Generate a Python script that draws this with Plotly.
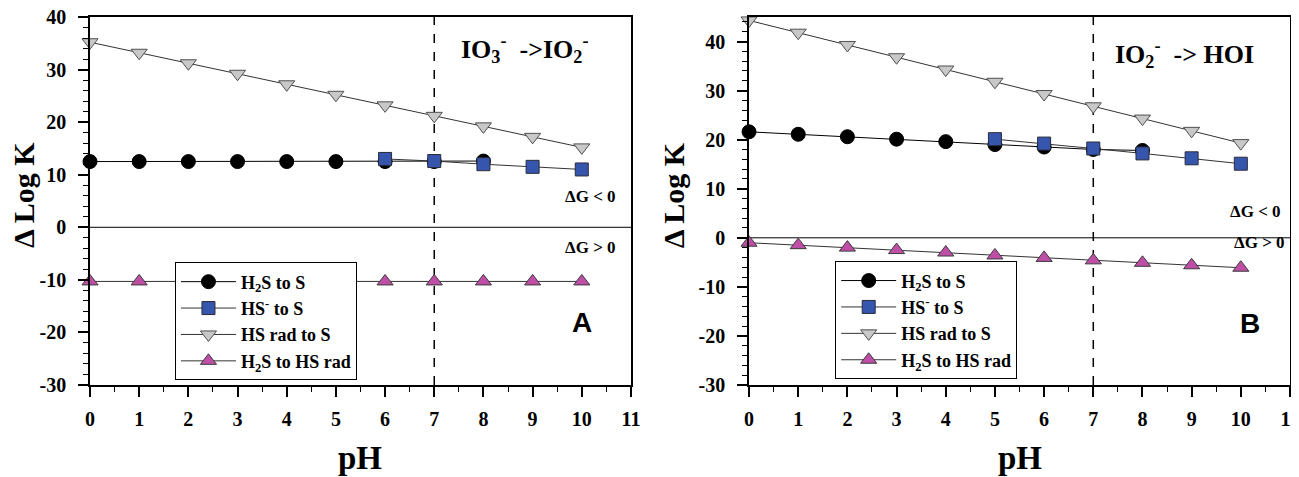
"""Delta log K vs pH for sulfide oxidation by iodine species (panels A and B)."""

import plotly.graph_objects as go

# ---------------------------------------------------------------- data ---- #
ph_all = [0, 1, 2, 3, 4, 5, 6, 7, 8, 9, 10]

# panel A : IO3- -> IO2-
a_h2s_ph = [0, 1, 2, 3, 4, 5, 6, 7, 8]
a_h2s_s = [12.5, 12.5, 12.5, 12.5, 12.5, 12.5, 12.5, 12.5, 12.6]
a_hs_ph = [6, 7, 8, 9, 10]
a_hs_s = [13.0, 12.6, 12.0, 11.5, 11.0]
a_hsrad_s = [35.2, 33.2, 31.2, 29.2, 27.2, 25.2, 23.2, 21.2, 19.2, 17.2, 15.2]
a_h2s_hsrad = [-10.3, -10.3, -10.3, -10.3, -10.3, -10.3, -10.3, -10.3, -10.3, -10.3, -10.3]

# panel B : IO2- -> HOI
b_h2s_ph = [0, 1, 2, 3, 4, 5, 6, 7, 8]
b_h2s_s = [21.6, 21.1, 20.6, 20.1, 19.6, 19.0, 18.5, 18.0, 17.8]
b_hs_ph = [5, 6, 7, 8, 9, 10]
b_hs_s = [20.1, 19.2, 18.2, 17.2, 16.2, 15.1]
b_hsrad_s = [44.3, 41.8, 39.3, 36.8, 34.3, 31.8, 29.3, 26.8, 24.3, 21.8, 19.3]
b_h2s_hsrad = [-1.0, -1.5, -2.0, -2.5, -3.0, -3.6, -4.1, -4.6, -5.1, -5.6, -6.1]

series_names = ["H<sub>2</sub>S to S", "HS<sup>-</sup> to S", "HS rad to S",
                "H<sub>2</sub>S to HS rad"]

x_ticks = list(range(0, 12))
y_ticks = [-30, -20, -10, 0, 10, 20, 30, 40]
y_ticktext = ["-30", "-20", "-10", "0", "10", "20", "30", "40"]

# -------------------------------------------------------------- styles ---- #
SERIF = "Liberation Serif"
styles = [
    dict(symbol="circle", size=14, color="black", line=dict(color="black", width=1)),
    dict(symbol="square", size=13, color="#3656AD", line=dict(color="#2a2a3a", width=1)),
    dict(symbol="triangle-down", size=14, color="#C8C8C8", line=dict(color="#505050", width=1)),
    dict(symbol="triangle-up", size=14, color="#BF4FA6", line=dict(color="#3a3a3a", width=1)),
]
line_colors = ["black", "#333333", "#333333", "#333333"]

fig = go.Figure()


def add_panel(xs_list, ys_list, xa, ya, legend):
    for i, (xs, ys) in enumerate(zip(xs_list, ys_list)):
        fig.add_trace(go.Scatter(
            x=xs, y=ys, mode="lines+markers", name=series_names[i],
            marker=styles[i], line=dict(color=line_colors[i], width=1),
            xaxis=xa, yaxis=ya, legend=legend, cliponaxis=False,
        ))


add_panel([a_h2s_ph, a_hs_ph, ph_all, ph_all],
          [a_h2s_s, a_hs_s, a_hsrad_s, a_h2s_hsrad], "x", "y", "legend")
add_panel([b_h2s_ph, b_hs_ph, ph_all, ph_all],
          [b_h2s_s, b_hs_s, b_hsrad_s, b_h2s_hsrad], "x2", "y2", "legend2")

# --------------------------------------------------------------- axes ----- #
tick_font = dict(family=SERIF, size=20, color="black", weight="bold")
xaxis_common = dict(
    range=[0, 11], tickvals=x_ticks, ticks="outside", ticklen=10, tickwidth=1.5,
    tickcolor="black", showline=True, linecolor="black", linewidth=1.5,
    mirror=True, showgrid=False, zeroline=False, tickfont=tick_font,
    ticklabelstandoff=5, ticklabeloverflow="allow", automargin=False,
    minor=dict(dtick=0.5, ticks="outside", ticklen=5, tickcolor="black", tickwidth=1),
)
yaxis_common = dict(
    tickvals=y_ticks, ticktext=y_ticktext, ticks="outside", ticklen=10, tickwidth=1.5,
    tickcolor="black", showline=True, linecolor="black", linewidth=1.5,
    mirror=True, showgrid=False, zeroline=False, tickfont=tick_font,
    ticklabelstandoff=8, ticklabeloverflow="allow", automargin=False,
    minor=dict(dtick=2, ticks="outside", ticklen=5, tickcolor="black", tickwidth=1),
)

legend_common = dict(
    bgcolor="white", bordercolor="black", borderwidth=1,
    font=dict(family=SERIF, size=18, color="black", weight="bold"),
    xanchor="left", yanchor="top", tracegroupgap=0, itemwidth=55,
)

# page body has an 8px margin, so the figure is sized to fit inside it
fig.update_layout(
    width=1283, height=469,
    margin=dict(l=82, r=1, t=9, b=92, autoexpand=False),
    plot_bgcolor="white", paper_bgcolor="white",
    xaxis=dict(domain=[0, 0.4508], anchor="y", **xaxis_common),
    yaxis=dict(domain=[0, 1], anchor="x", range=[-30, 40], **yaxis_common),
    xaxis2=dict(domain=[0.5492, 1], anchor="y2", **xaxis_common),
    yaxis2=dict(domain=[0, 1], anchor="x2", range=[-30, 45], **yaxis_common),
    legend=dict(x=0.0708, y=0.333, **legend_common),
    legend2=dict(x=0.621, y=0.336, **legend_common),
    showlegend=True,
)

# zero lines and pH 7 dashed lines
for xa, ya, top in (("x", "y", 40), ("x2", "y2", 45)):
    fig.add_shape(type="line", xref=xa, yref=ya, x0=0, x1=11, y0=0, y1=0,
                  line=dict(color="black", width=1), layer="below")
    fig.add_shape(type="line", xref=xa, yref=ya, x0=7, x1=7, y0=-30, y1=top,
                  line=dict(color="black", width=1.5, dash="dash"), layer="below")

# --------------------------------------------------------- annotations ---- #
small_font = dict(family=SERIF, size=17, color="black", weight="bold")
title_font = dict(family=SERIF, size=26, color="black", weight="bold")
panel_font = dict(family="Liberation Sans", size=28, color="black", weight="bold")
label_font = dict(family=SERIF, size=30, color="black", weight="bold")
ph_font = dict(family=SERIF, size=33, color="black", weight="bold")

notes = [
    ("x", "y", 10.18, 5.95, "ΔG &lt; 0", small_font),
    ("x", "y", 10.18, -3.75, "ΔG &gt; 0", small_font),
    ("x", "y", 8.84, 34.0, "IO<sub>3</sub><sup>-</sup>  ->IO<sub>2</sub><sup>-</sup>", title_font),
    ("x", "y", 10.0, -18.2, "A", panel_font),
    ("x2", "y2", 10.3, 5.3, "ΔG &lt; 0", small_font),
    ("x2", "y2", 10.37, -1.05, "ΔG &gt; 0", small_font),
    ("x2", "y2", 8.86, 37.5, "IO<sub>2</sub><sup>-</sup>  -> HOI", title_font),
    ("x2", "y2", 10.18, -17.4, "B", panel_font),
]
for xr, yr, x, y, text, font in notes:
    fig.add_annotation(xref=xr, yref=yr, x=x, y=y, text=text, font=font,
                       showarrow=False, xanchor="center", yanchor="middle")

for x, y, text, angle, font in ((-0.056, 0.516, "Δ Log K", -90, label_font),
                                (0.486, 0.516, "Δ Log K", -90, label_font),
                                (0.225, -0.199, "pH", 0, ph_font),
                                (0.775, -0.199, "pH", 0, ph_font)):
    fig.add_annotation(xref="paper", yref="paper", x=x, y=y, text=text,
                       textangle=angle, font=font, showarrow=False,
                       xanchor="center", yanchor="middle")

fig.write_html("out.html")
